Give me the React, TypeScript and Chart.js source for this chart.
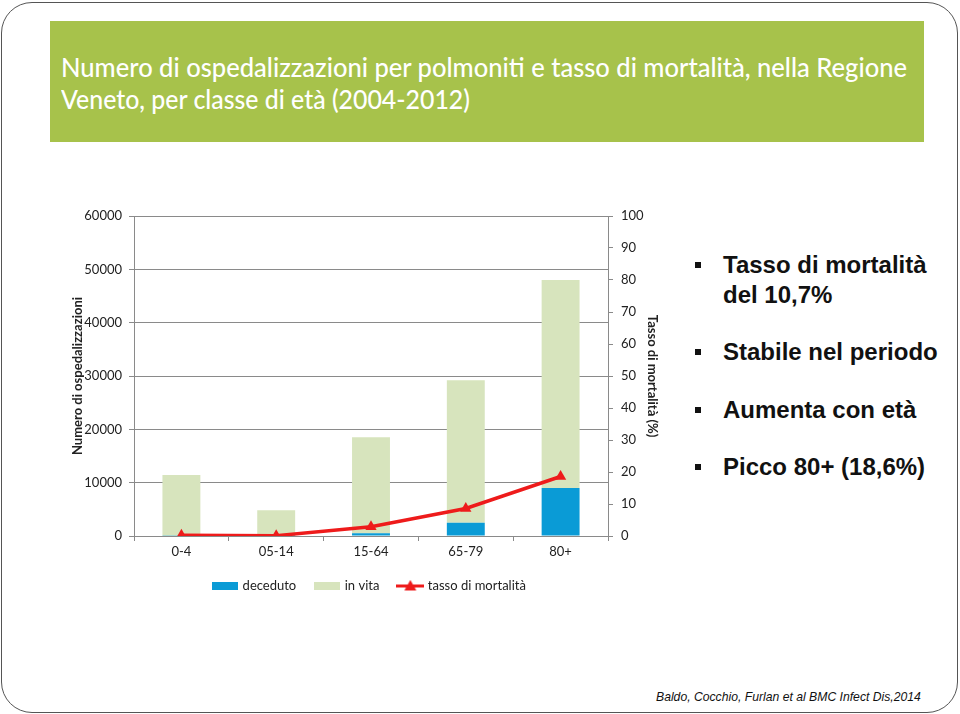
import React, { useEffect, useLayoutEffect, useRef } from 'react';
import { Chart, registerables } from 'chart.js';

Chart.register(...registerables);

// ---- data ----
const categories = ['0-4', '05-14', '15-64', '65-79', '80+'];
const deceduti = [25, 5, 520, 2500, 9000];
const inVita = [11400, 4800, 17980, 26700, 39000];
const tassoMortalita = [0.2, 0.1, 2.9, 8.6, 18.6];
const seriesNames = ['deceduto', 'in vita', 'tasso di mortalità'];
const leftAxisTitle = 'Numero di ospedalizzazioni';
const rightAxisTitle = 'Tasso di mortalità (%)';
const titleLines = [
  'Numero di ospedalizzazioni per polmoniti e tasso di mortalità, nella Regione',
  'Veneto, per classe di età (2004-2012)',
];
const bulletLines = [
  ['Tasso di mortalità', 'del 10,7%'],
  ['Stabile nel periodo'],
  ['Aumenta con età'],
  ['Picco 80+ (18,6%)'],
];
const citation = 'Baldo, Cocchio, Furlan et al BMC Infect Dis,2014';

// ---- styles ----
const BLUE = '#0A9BD6';
const LIGHT = '#D7E4BD';
const RED = '#EE1B1B';
const AXIS = '#8A8A8A';
const TEXT = '#222222';
const FONT = 'Lato, "Open Sans", sans-serif';

function makeSwatch(color: string) {
  const c = document.createElement('canvas');
  c.width = 26;
  c.height = 8;
  const x = c.getContext('2d')!;
  x.fillStyle = color;
  x.fillRect(0, 0, 26, 8);
  return c;
}

function makeLineSwatch() {
  const c = document.createElement('canvas');
  c.width = 28;
  c.height = 12;
  const x = c.getContext('2d')!;
  x.strokeStyle = RED;
  x.lineWidth = 3;
  x.beginPath();
  x.moveTo(0, 6.5);
  x.lineTo(28, 6.5);
  x.stroke();
  x.fillStyle = RED;
  x.beginPath();
  x.moveTo(14, 0.5);
  x.lineTo(20, 11);
  x.lineTo(8, 11);
  x.closePath();
  x.fill();
  return c;
}

function FitText({ text, width, style }: { text: string; width: number; style: React.CSSProperties }) {
  const ref = useRef<HTMLSpanElement>(null);
  useLayoutEffect(() => {
    const el = ref.current;
    if (!el) return;
    el.style.transform = 'none';
    const w = el.getBoundingClientRect().width;
    if (w > 0) el.style.transform = `scaleX(${width / w})`;
  }, [text, width]);
  return (
    <span
      ref={ref}
      style={{ ...style, position: 'absolute', whiteSpace: 'nowrap', transformOrigin: '0 0', display: 'inline-block' }}
    >
      {text}
    </span>
  );
}

function ChartView() {
  const canvasRef = useRef<HTMLCanvasElement>(null);
  useEffect(() => {
    const canvas = canvasRef.current;
    if (!canvas) return;
    const swatches = [makeSwatch(BLUE), makeSwatch(LIGHT), makeLineSwatch()];
    const plain = (v: any) => String(v);
    const chart = new Chart(canvas, {
      type: 'bar',
      data: {
        labels: categories,
        datasets: [
          {
            type: 'bar',
            label: seriesNames[0],
            data: deceduti,
            backgroundColor: BLUE,
            borderWidth: 0,
            yAxisID: 'y',
            order: 1,
            barPercentage: 0.4,
            categoryPercentage: 1,
          },
          {
            type: 'bar',
            label: seriesNames[1],
            data: inVita,
            backgroundColor: LIGHT,
            borderWidth: 0,
            yAxisID: 'y',
            order: 1,
            barPercentage: 0.4,
            categoryPercentage: 1,
          },
          {
            type: 'line',
            label: seriesNames[2],
            data: tassoMortalita,
            borderColor: RED,
            backgroundColor: RED,
            borderWidth: 3.5,
            pointStyle: 'triangle',
            pointRadius: 6.5,
            pointBorderWidth: 0,
            pointBackgroundColor: RED,
            yAxisID: 'y1',
            order: 0,
            tension: 0,
          } as any,
        ],
      },
      options: {
        animation: false,
        responsive: false,
        events: [],
        layout: { padding: { top: 16, left: 0, right: 0, bottom: 0 } },
        scales: {
          x: {
            stacked: true,
            offset: true,
            grid: { drawOnChartArea: false, drawTicks: true, tickLength: 5, offset: true, color: AXIS },
            border: { display: true, color: AXIS },
            ticks: { color: TEXT, font: { family: FONT, size: 13 }, padding: 3, maxRotation: 0 },
            afterFit: (s: any) => {
              s.height = 23;
            },
          },
          y: {
            stacked: true,
            position: 'left',
            min: 0,
            max: 60000,
            grid: { color: AXIS, tickLength: 5, drawTicks: true },
            border: { display: true, color: AXIS },
            ticks: { stepSize: 10000, color: TEXT, font: { family: FONT, size: 13 }, padding: 7, callback: plain },
            title: {
              display: true,
              text: leftAxisTitle,
              color: TEXT,
              font: { family: FONT, size: 13, weight: 'bold' },
              padding: { top: 10, bottom: 0 },
            },
            afterFit: (s: any) => {
              s.width = 74;
            },
          },
          y1: {
            position: 'right',
            min: 0,
            max: 100,
            grid: { drawOnChartArea: false, color: AXIS, tickLength: 5, drawTicks: true },
            border: { display: true, color: AXIS },
            ticks: { stepSize: 10, color: TEXT, font: { family: FONT, size: 13 }, padding: 8, callback: plain },
            title: {
              display: true,
              text: rightAxisTitle,
              color: TEXT,
              font: { family: FONT, size: 13, weight: 'bold' },
              padding: { top: 20, bottom: 0 },
            },
            afterFit: (s: any) => {
              s.width = 72;
            },
          },
        },
        plugins: {
          tooltip: { enabled: false },
          title: { display: false },
          legend: {
            display: true,
            position: 'bottom',
            labels: {
              usePointStyle: true,
              pointStyleWidth: 22,
              padding: 20,
              color: TEXT,
              font: { family: FONT, size: 13 },
              generateLabels: () =>
                seriesNames.map((name, i) => ({
                  text: name,
                  pointStyle: swatches[i] as any,
                  fillStyle: i === 0 ? BLUE : i === 1 ? LIGHT : RED,
                  strokeStyle: 'transparent',
                  lineWidth: 0,
                  hidden: false,
                  datasetIndex: i,
                  fontColor: TEXT,
                })),
            },
          },
        },
      } as any,
    });
    return () => chart.destroy();
  }, []);
  return (
    <canvas
      ref={canvasRef}
      width={620}
      height={402}
      style={{ position: 'absolute', left: 60, top: 200, width: 620, height: 402 }}
    />
  );
}

export default function App() {
  const bulletTops = [[253, 283], [340], [397.5], [455]];
  return (
    <div
      style={{
        position: 'fixed',
        left: 0,
        top: 0,
        width: 960,
        height: 714,
        background: '#ffffff',
        overflow: 'hidden',
        fontFamily: FONT,
      }}
    >
      <div
        style={{
          position: 'absolute',
          left: 1,
          top: 2,
          width: 957,
          height: 711,
          boxSizing: 'border-box',
          border: '1.5px solid #555555',
          borderRadius: 31,
        }}
      />
      <div style={{ position: 'absolute', left: 50, top: 21, width: 874, height: 121, background: '#A7C24B' }} />
      <FitText
        text={titleLines[0]}
        width={846}
        style={{ left: 61, top: 51, color: '#ffffff', fontFamily: FONT, fontSize: 27, fontWeight: 500, lineHeight: '32px' }}
      />
      <FitText
        text={titleLines[1]}
        width={409}
        style={{ left: 61, top: 83, color: '#ffffff', fontFamily: FONT, fontSize: 27, fontWeight: 500, lineHeight: '32px' }}
      />
      <ChartView />
      {bulletLines.map((lines, bi) => (
        <React.Fragment key={bi}>
          <div
            style={{
              position: 'absolute',
              left: 695,
              top: bulletTops[bi][0] + 9,
              width: 6,
              height: 6,
              background: '#111111',
            }}
          />
          {lines.map((ln, li) => (
            <div
              key={li}
              style={{
                position: 'absolute',
                left: 723,
                top: bulletTops[bi][li],
                fontFamily: '"Liberation Sans", Arial, sans-serif',
                fontWeight: 'bold',
                fontSize: 24,
                lineHeight: '24px',
                color: '#111111',
                whiteSpace: 'nowrap',
              }}
            >
              {ln}
            </div>
          ))}
        </React.Fragment>
      ))}
      <div
        style={{
          position: 'absolute',
          left: 656,
          top: 690,
          fontFamily: '"Liberation Sans", Arial, sans-serif',
          fontStyle: 'italic',
          fontSize: 12.2,
          lineHeight: '14px',
          color: '#111111',
          whiteSpace: 'nowrap',
        }}
      >
        {citation}
      </div>
    </div>
  );
}
